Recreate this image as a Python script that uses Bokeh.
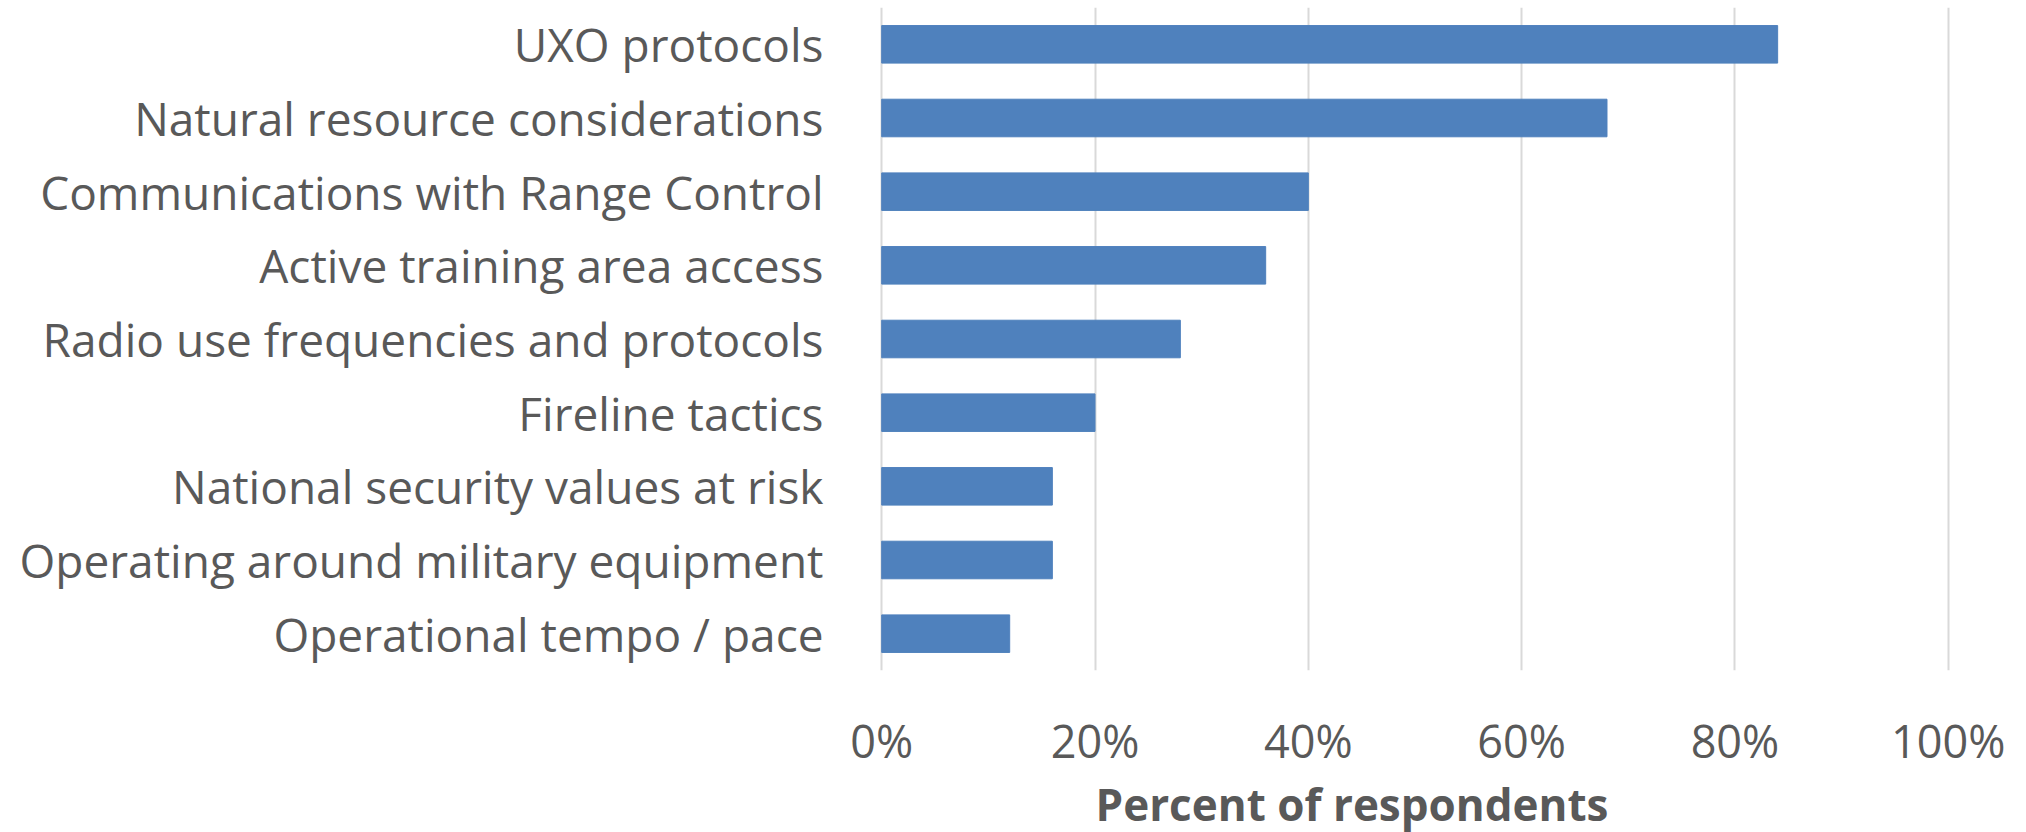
from bokeh.plotting import figure
from bokeh.models import FactorRange, FixedTicker, NumeralTickFormatter, ColumnDataSource, Range1d, Div
from bokeh.layouts import column
from bokeh.embed import file_html
from bokeh.resources import INLINE

categories = [
    "UXO protocols",
    "Natural resource considerations",
    "Communications with Range Control",
    "Active training area access",
    "Radio use frequencies and protocols",
    "Fireline tactics",
    "National security values at risk",
    "Operating around military equipment",
    "Operational tempo / pace",
]
values = [0.84, 0.68, 0.40, 0.36, 0.28, 0.20, 0.16, 0.16, 0.12]
x_ticks = [0, 0.2, 0.4, 0.6, 0.8, 1.0]
axis_title = "Percent of respondents"

FONT = "Open Sans"
GRAY = "#595959"

src = ColumnDataSource(dict(cat=categories, val=values))

p = figure(
    width=2018, height=780,
    y_range=FactorRange(factors=list(reversed(categories)), range_padding=0),
    x_range=Range1d(-0.003, 1.003),
    output_backend="svg", toolbar_location=None,
    min_border_left=878, min_border_right=67, min_border_top=7, min_border_bottom=110,
)
p.hbar(y="cat", right="val", left=0, height=0.51, source=src,
       fill_color="#4f81bd", line_color="#4f81bd", line_width=1)

p.outline_line_color = None
p.ygrid.grid_line_color = None
p.xgrid.grid_line_color = "#d9d9d9"
p.xgrid.grid_line_width = 2

p.xaxis.ticker = FixedTicker(ticks=x_ticks)
p.xaxis.formatter = NumeralTickFormatter(format="0%")
p.xaxis.axis_line_color = None
p.xaxis.major_tick_line_color = None
p.xaxis.minor_tick_line_color = None
p.xaxis.major_label_text_font = FONT
p.xaxis.major_label_text_font_size = "45px"
p.xaxis.major_label_text_color = GRAY
p.xaxis.major_label_standoff = 33

p.yaxis.axis_line_color = None
p.yaxis.major_tick_line_color = None
p.yaxis.minor_tick_line_color = None
p.yaxis.major_label_text_font = FONT
p.yaxis.major_label_text_font_size = "46px"
p.yaxis.major_label_text_color = GRAY
p.yaxis.major_label_standoff = 49

p.background_fill_color = "white"
p.border_fill_color = "white"

title = Div(
    text=axis_title, width=948, height=44, margin=(0, 0, 0, 878),
    styles={
        "font-family": "'Open Sans'", "font-size": "44px", "font-weight": "bold",
        "color": GRAY, "text-align": "center", "line-height": "44px",
        "white-space": "nowrap", "overflow": "visible", "padding-top": "2px",
    },
)

layout = column(p, title, spacing=0)

open("out.html", "w").write(file_html(layout, INLINE))
